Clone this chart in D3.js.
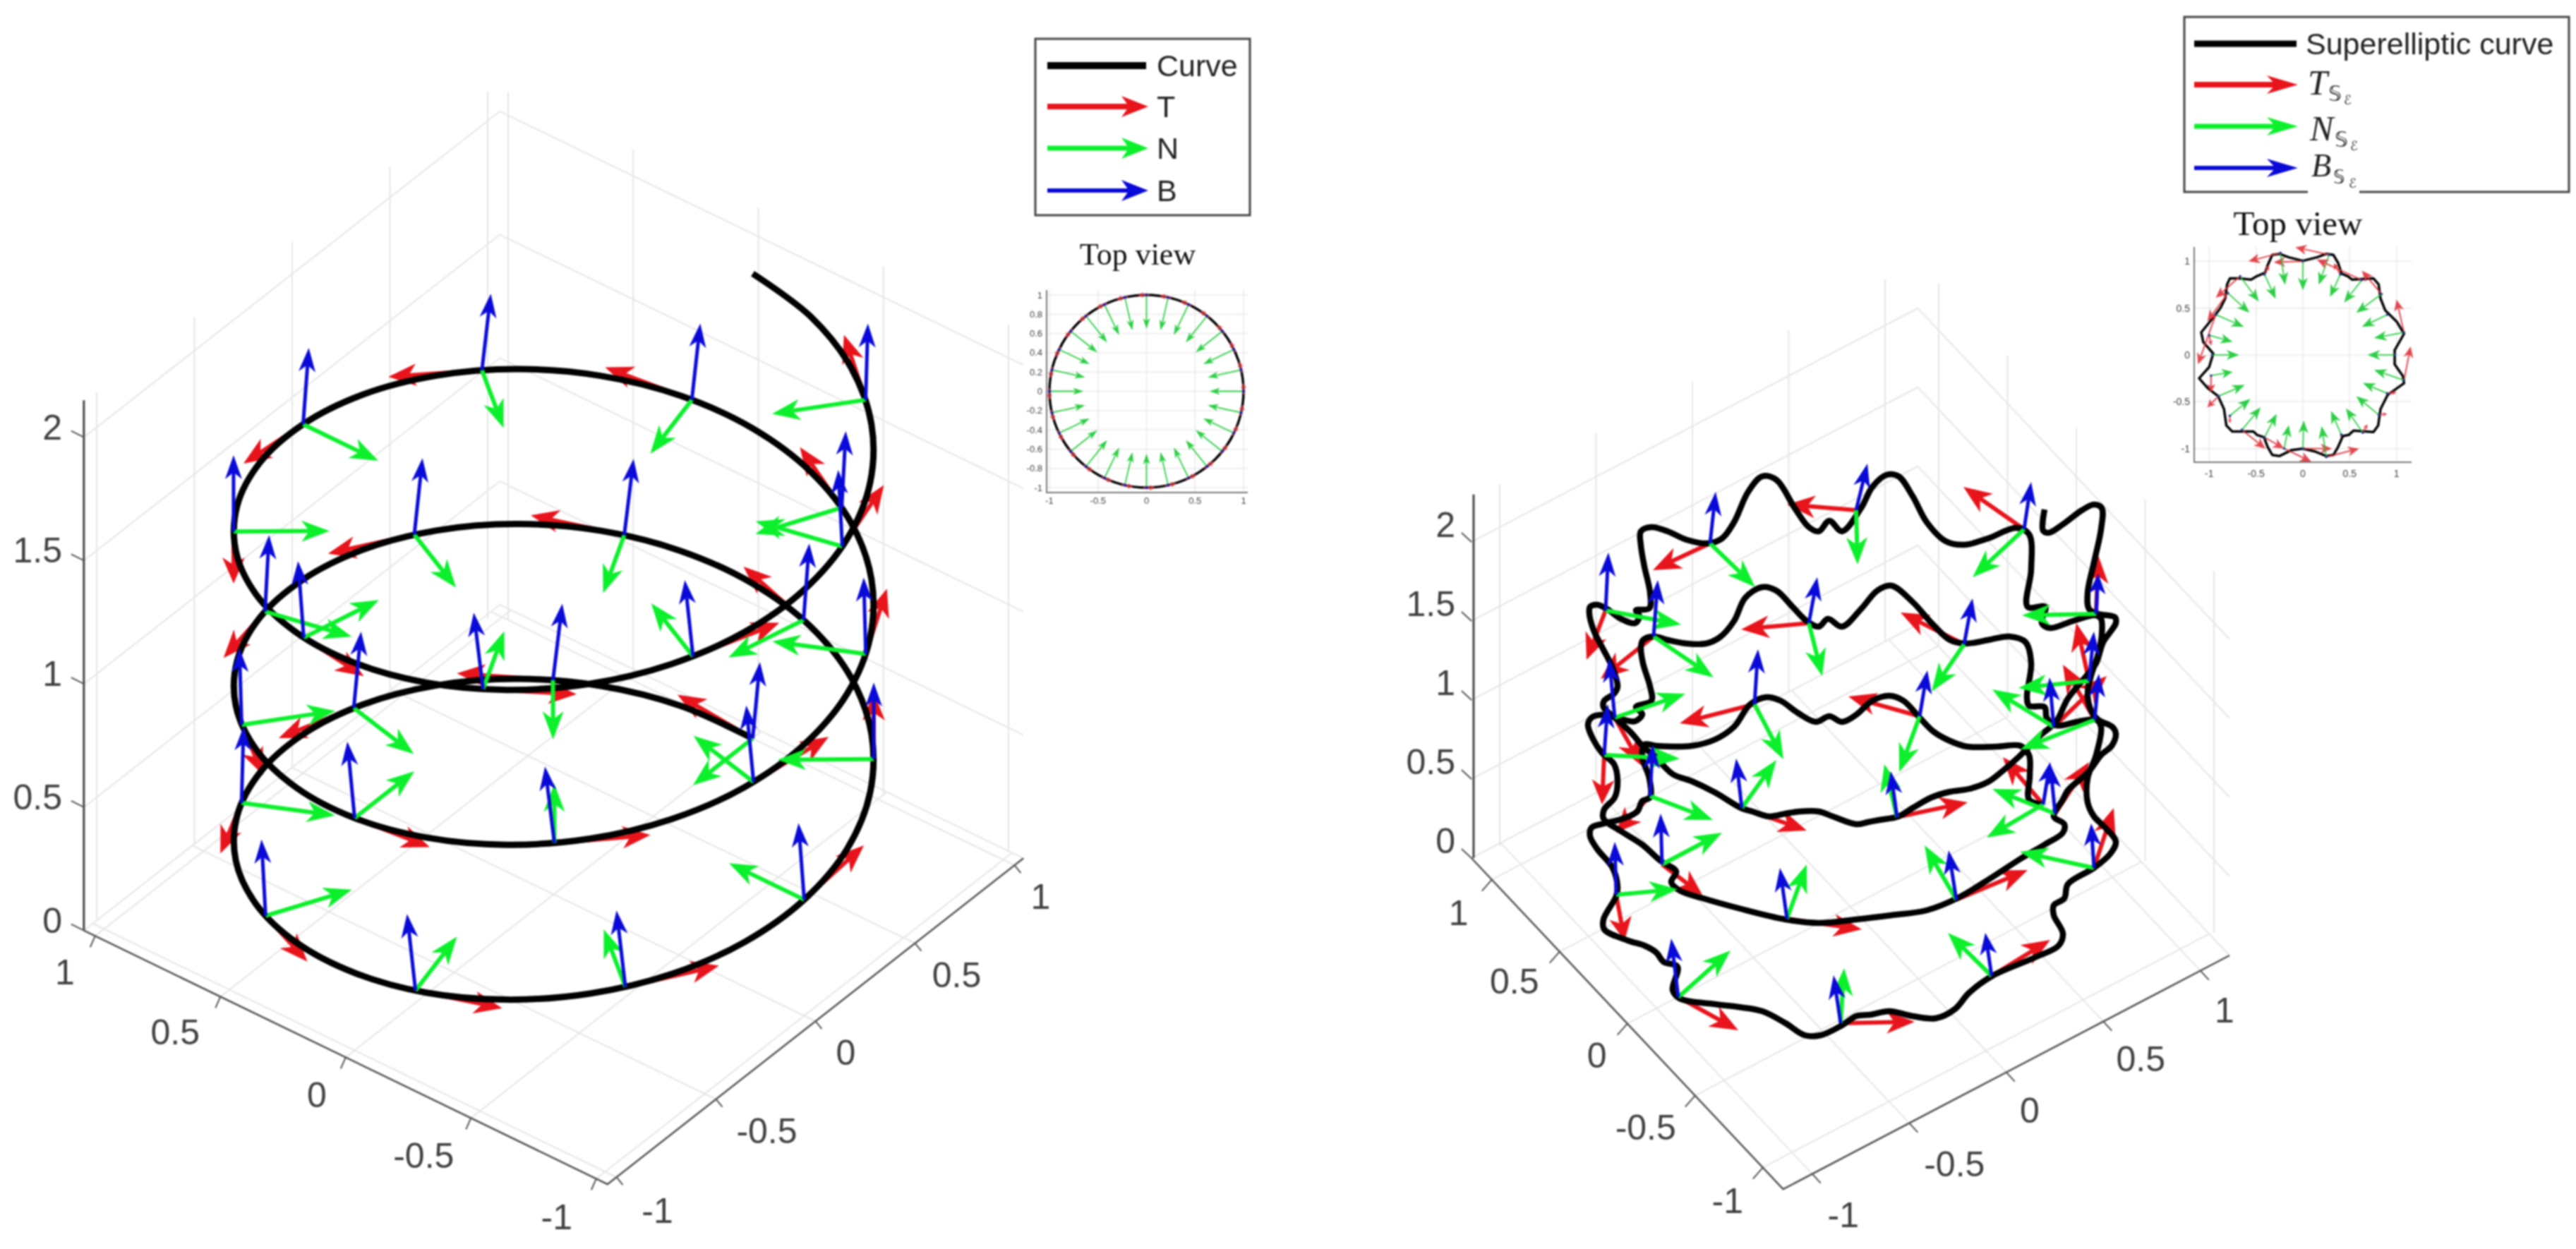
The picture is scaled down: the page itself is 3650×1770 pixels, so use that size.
<!DOCTYPE html>
<html><head><meta charset="utf-8">
<script src="https://cdn.jsdelivr.net/npm/d3@7"></script>
<style>html,body{margin:0;padding:0;background:#fff}svg{display:block;filter:blur(1px)}</style>
</head><body><div id="c"></div>
<script>
// ---------- left panel: helix sampled along the curve
const curveA=[0,.259,.5,.707,.866,.966,1,.966,.866,.707,.5,.259,0,-.259,-.5,-.707,-.866,-.966,-1,-.966,-.866,-.707,-.5,-.259,
0,.259,.5,.707,.866,.966,1,.966,.866,.707,.5,.259,0,-.259,-.5,-.707,-.866,-.966,-1,-.966,-.866,-.707,-.5,-.259,
0,.259,.5,.707,.866,.966,1,.966,.866,.707,.5,.259,0,-.259,-.5,-.707,-.866,-.966,-1,-.966,-.866,-.707,-.5,-.259,0];
const curveB=[1,.966,.866,.707,.5,.259,0,-.259,-.5,-.707,-.866,-.966,-1,-.966,-.866,-.707,-.5,-.259,0,.259,.5,.707,.866,.966,
1,.966,.866,.707,.5,.259,0,-.259,-.5,-.707,-.866,-.966,-1,-.966,-.866,-.707,-.5,-.259,0,.259,.5,.707,.866,.966,
1,.966,.866,.707,.5,.259,0,-.259,-.5,-.707,-.866,-.966,-1,-.966,-.866,-.707,-.5,-.259,0,.259,.5,.707,.866,.966,1];
const curveZ=[0,.026,.052,.079,.105,.131,.157,.183,.209,.236,.262,.288,.314,.340,.367,.393,.419,.445,.471,.497,.524,.550,.576,.602,.628,.654,.681,.707,.733,.759,.785,.812,.838,.864,.890,.916,.942,.969,.995,1.021,1.047,1.073,1.100,1.126,1.152,1.178,1.204,1.230,1.257,1.283,1.309,1.335,1.361,1.388,1.414,1.440,1.466,1.492,1.518,1.545,1.571,1.597,1.623,1.649,1.676,1.702,1.728,1.754,1.780,1.806,1.833,1.859,1.885];
const frameA=[0,.624,.975,.901,.434,-.223,-.782,-1,-.782,-.223,.434,.901,.975,.624,0,-.624,-.975,-.901,-.434,.223,.782,1,.782,.223,-.434,-.901,-.975,-.624];
const frameB=[1,.782,.223,-.434,-.901,-.975,-.624,0,.624,.975,.901,.434,-.223,-.782,-1,-.782,-.223,.434,.901,.975,.624,0,-.624,-.975,-.901,-.434,.223,.782];
const frameZ=[0,.067,.135,.202,.269,.337,.404,.471,.539,.606,.673,.741,.808,.875,.942,1.010,1.077,1.144,1.212,1.279,1.346,1.414,1.481,1.548,1.616,1.683,1.750,1.818];
const tanA=[.3,.235,.067,-.13,-.27,-.293,-.187,0,.187,.293,.27,.13,-.067,-.235,-.3,-.235,-.067,.13,.27,.293,.187,0,-.187,-.293,-.27,-.13,.067,.235];
const tanB=[0,-.187,-.293,-.27,-.13,.067,.235,.3,.235,.067,-.13,-.27,-.293,-.187,0,.187,.293,.27,.13,-.067,-.235,-.3,-.235,-.067,.13,.27,.293,.187];
const tanZ=.03;
const norA=[0,-.187,-.293,-.27,-.13,.067,.235,.3,.235,.067,-.13,-.27,-.293,-.187,0,.187,.293,.27,.13,-.067,-.235,-.3,-.235,-.067,.13,.27,.293,.187];
const norB=[-.3,-.235,-.067,.13,.27,.293,.187,0,-.187,-.293,-.27,-.13,.067,.235,.3,.235,.067,-.13,-.27,-.293,-.187,0,.187,.293,.27,.13,-.067,-.235];
const binA=[-.018,-.023,-.018,-.005,.010,.021,.022,.014,0,-.014,-.023,-.020,-.010,.006,.018,.023,.018,.005,-.010,-.021,-.022,-.014,0,.014,.023,.020,.010,-.006];
const binB=[.014,.018,.014,.004,-.008,-.016,-.017,-.011,0,.011,.018,.016,.008,-.004,-.014,-.018,-.014,-.004,.008,.016,.017,.011,0,-.011,-.018,-.016,-.008,.004];
const binZ=.31;
// ---------- right panel: superelliptic curve, read in view units
const superH=[271,253,254,253,241,208,165,141,118,98,75,55,31,8,-12,-30,-49,-75,-99,-119,-142,-165,-192,-225,-275,-292,-295,-285,-284,-295,-302,-322,-349,-367,-369,-359,-337,-330,-332,-350,-349,-315,-292,-275,-265,-245,-252,-242,-192,-159,-125,-92,-65,-42,-12,8,28,55,88,121,148,168,201,261,295,301,288,288,303,308,345,368,376,361,345,336,336,348,355,348,321,291,278,275,253,250,256,248,225,195,163,141,115,88,58,38,15,-12,-32,-45,-62,-82,-105,-125,-149,-165,-185,-205,-232,-259,-279,-294,-297,-294,-284,-282,-304,-295,-305,-322,-352,-367,-372,-365,-352,-335,-330,-334,-349,-350,-325,-295,-269,-247,-254,-242,-209,-159,-92,-45,8,58,108,151,201,241,275,301,303,288,301,308,338,355,370,376,371,351,341,336,341,351,356,355,348,315,283,271,276,251,256,253,235,195,161,135,108,88,68,51,31,15,-12,-30,-45,-59,-79,-105,-125,-145,-165,-182,-202,-232,-259,-282,-297,-297,-292,-284,-285,-304,-299,-305,-325,-345,-359,-369,-370,-364,-352,-337,-330,-335,-349,-350,-334,-312,-292,-279,-252,-225,-192,-155,-139,-115,-92,-72,-45,-25,8,25,41,68,88,115,141,168,195,215,238,268,291,308,335,348,358,370,376,375,351,338,336,345,355,356,345,328,301,281,273,275];
const superV=[145,152,185,215,228,227,227,235,248,268,292,299,292,272,262,270,262,275,292,297,287,255,237,228,228,230,212,182,155,150,135,125,118,112,100,82,55,28,15,-18,-32,-48,-55,-65,-78,-85,-118,-130,-138,-142,-148,-165,-182,-182,-168,-155,-153,-148,-155,-158,-145,-122,-98,-72,-55,-38,-12,2,12,32,55,75,92,112,128,148,182,215,255,265,262,257,268,283,285,298,345,375,383,378,373,378,402,432,455,448,422,397,408,397,405,425,448,453,438,405,382,373,373,378,383,378,368,345,312,292,283,273,263,265,272,268,258,238,218,202,178,155,138,125,107,88,65,50,35,23,12,-2,-18,-23,-18,-12,-5,12,42,68,88,105,117,128,152,165,192,215,228,245,255,265,278,302,328,358,385,408,413,405,395,402,425,425,478,528,537,522,513,518,545,582,610,612,595,565,532,547,532,538,565,605,610,588,545,522,515,520,532,538,532,512,482,445,423,420,412,402,408,422,428,425,415,392,368,338,312,302,292,283,268,248,225,215,188,178,162,140,135,128,132,135,135,128,117,120,123,128,140,155,163,167,177,192,212,242,262,295,328,345,375,392,402,410,415,422,445,488,535,565,570,562,542,530,533,563];
const sfH=[-199,-347,-279,-59,-136,246,8,161,98,348,338,288,346,273,290,66,150,345,200,-14,-244,-332,-267,-90,-154,-284,-334,-349];
const sfV=[515,420,383,402,287,535,562,372,270,415,320,255,265,145,132,127,10,55,-98,-165,-128,17,60,-17,140,157,268,215];
const sfTH=[-280,-374,-354,-155,-242,160,-90,71,-3,351,320,363,301,216,338,166,251,373,283,91,-159,-320,-210,16,-62,-332,-296,-352];
const sfTV=[477,350,323,393,260,595,570,417,298,498,402,327,343,212,205,148,52,140,-47,-163,-175,-48,17,-32,108,105,200,145];
const sfNH=[-135,-240,-194,-40,-95,173,10,115,69,243,238,201,241,193,201,48,105,240,138,-9,-170,-245,-182,-62,-105,-195,-234,-242];
const sfNV=[453,400,325,327,209,467,485,305,191,413,310,308,223,98,167,202,87,78,-37,-87,-62,25,105,60,208,123,302,210];
const sfBH=[-191,-343,-273,-47,-131,256,24,173,109,351,345,282,352,283,283,57,139,341,191,-24,-254,-334,-269,-100,-162,-280,-342,-344];
const sfBV=[588,502,463,467,365,602,628,437,335,472,390,325,330,205,202,192,80,118,-37,-97,-45,92,132,55,210,230,352,287];
// ---------- top view of the superelliptic curve
const topH=[0,-.151,-.251,-.327,-.377,-.402,-.49,-.553,-.678,-.779,-.809,-.829,-.879,-.955,-1.085,-1.063,-.957,-1.0,-1.108,-1.017,-.905,-.842,-.817,-.754,-.653,-.528,-.49,-.415,-.377,-.327,-.251,-.126,0,.126,.251,.327,.377,.427,.49,.54,.754,.804,.829,.905,1.08,1.068,.98,.98,1.08,1.005,.879,.829,.809,.754,.528,.477,.415,.377,.327,.251,.151,0];
const topV=[1.005,1.043,1.08,1.068,.955,.879,.842,.804,.817,.817,.754,.603,.503,.402,.241,.136,.015,-.128,-.249,-.354,-.44,-.578,-.754,-.817,-.817,-.817,-.854,-.879,-.98,-1.068,-1.08,-1.018,-1.0,-1.03,-1.08,-1.068,-.98,-.867,-.854,-.809,-.824,-.754,-.578,-.427,-.302,-.226,-.1,.05,.226,.352,.477,.603,.754,.817,.804,.842,.867,.98,1.068,1.08,1.043,1.005];
const tfH=[0,.28,-.24,-.67,-.41,-.80,-.93,-1.0,-.97,-.98,-.9,-.78,-.65,-.41,-.2,0,.25,.41,.64,.81,.9,1.08,.98,1.08,.9,.84,.63,.4];
const tfV=[1.0,1.07,1.09,.84,.86,.66,.43,.21,0,-.22,-.44,-.65,-.80,-.88,-1.0,-1.0,-1.09,-.85,-.83,-.64,-.41,-.27,0,.24,.43,.65,.8,.86];
const tfNH=[0,.17,-.19,-.47,-.29,-.57,-.63,-.75,-.68,-.75,-.62,-.56,-.45,-.28,-.15,.01,.2,.30,.46,.57,.64,.76,.69,.76,.63,.57,.44,.29];
const tfNV=[.69,.75,.75,.57,.60,.45,.30,.14,0,-.18,-.32,-.47,-.56,-.63,-.75,-.70,-.76,-.60,-.57,-.44,-.30,-.16,0,.18,.30,.45,.56,.62];
const tfTH=[-.31,-.08,-.58,-.93,-.36,-1.02,-1.12,-.98,-.97,-.98,-1.02,-.78,-.40,-.2,.09,.31,.60,.40,.69,.90,1.0,1.15,.98,1.0,.9,.63,.15,.33];
const tfTV=[.99,1.15,1.0,.61,.96,.36,-.10,.10,-.02,-.40,-.56,-.73,-1.0,-1.0,-1.14,-1.0,-1.0,-.88,-.74,-.63,-.40,.09,.02,.59,.44,.90,1.02,.98];
// ---------- tick labels and legends
const ticksZ=[0,.5,1,1.5,2];
const ticksAB=[1,.5,0,-.5,-1];
const wallTicks=[-1,-.5,0,.5,1];
const insetTicksFine=[-1,-.8,-.6,-.4,-.2,0,.2,.4,.6,.8,1];
const insetTicksCoarse=[-1,-.5,0,.5,1];
const legendLeft=["Curve","T","N","B"];
const legendRight="Superelliptic curve";
const RED="#e8141c",GREEN="#0cf02c",BLUE="#0a0ad8";

const W=3650,H=1770;
const svg=d3.select("#c").append("svg").attr("width",W).attr("height",H).attr("viewBox",`0 0 ${W} ${H}`);
svg.append("rect").attr("width",W).attr("height",H).attr("fill","#fff");
const lineGen=d3.line();
function arrow(g,x0,y0,x1,y1,c,w,hl,hw,op){
  const L=Math.hypot(x1-x0,y1-y0)||1,ux=(x1-x0)/L,uy=(y1-y0)/L;
  hl=Math.min(hl,L*.5);hw=Math.min(hw,hl*.5);
  const bx=x1-ux*hl,by=y1-uy*hl,nx=x1-ux*hl*.72,ny=y1-uy*hl*.72;
  const gg=g.append("g").attr("opacity",op||1);
  gg.append("path").attr("d",lineGen([[x0,y0],[nx,ny]])).attr("stroke",c).attr("stroke-width",w).attr("fill","none");
  gg.append("path").attr("d",lineGen([[x1,y1],[bx-uy*hw,by+ux*hw],[nx,ny],[bx+uy*hw,by-ux*hw]])+"Z").attr("fill",c);
}
function axisLabel(g,x,y,t,size,anchor){
  g.append("text").attr("x",x).attr("y",y).attr("text-anchor",anchor||"middle").attr("dominant-baseline","central")
   .attr("font-family","'Liberation Sans',Arial,sans-serif").attr("font-size",size).attr("fill","#404040").text(t);
}
function fmt(v){return String(v);}
function view(o){
  const xa=d3.scaleLinear().domain([-1,1]).range([-o.da[0],o.da[0]]),
        ya=d3.scaleLinear().domain([-1,1]).range([-o.da[1],o.da[1]]),
        xb=d3.scaleLinear().domain([-1,1]).range([-o.db[0],o.db[0]]),
        yb=d3.scaleLinear().domain([-1,1]).range([-o.db[1],o.db[1]]),
        zs=d3.scaleLinear().domain([0,1]).range([0,-o.zu]);
  return (a,b,z=0)=>[o.c[0]+xa(a)+xb(b),o.c[1]+ya(a)+yb(b)+zs(z)];
}
function frameAxes(g,P,o){
  const L=o.lim,grid="#e6e6e6";
  const gl=(pts,c,w)=>g.append("path").attr("d",lineGen(pts)).attr("fill","none").attr("stroke",c).attr("stroke-width",w);
  ticksAB.forEach(t=>{gl([P(t,-L),P(t,L)],grid,2);gl([P(-L,t),P(L,t)],grid,2);});
  ticksZ.forEach(z=>gl([P(L,-L,z),P(L,L,z),P(-L,L,z)],grid,2));
  const lx=d3.scaleLinear().domain([-1,1]).range(o.wallL.x),ly=d3.scaleLinear().domain([-1,1]).range(o.wallL.y),
        rx=d3.scaleLinear().domain([-1,1]).range(o.wallR.x),ry=d3.scaleLinear().domain([-1,1]).range(o.wallR.y);
  wallTicks.forEach(t=>{
    gl([[lx(t),ly(t)],[lx(t),ly(t)-o.wallH]],grid,2);
    gl([[rx(t),ry(t)],[rx(t),ry(t)-o.wallH]],grid,2);
  });
  const c0=P(L,-L),c1=P(-L,-L),c2=P(-L,L);
  gl([[c0[0]+o.zdx,c0[1]],[c0[0]+o.zdx,c0[1]-o.zu*o.ztop]],"#444",3);
  gl([c0,c1,c2],"#555",2.5);
  ticksZ.forEach(z=>{const p=P(L,-L,z);
    gl([[p[0],p[1]],[p[0]+o.zt[0],p[1]+o.zt[1]]],"#555",2);
    axisLabel(g,o.zlab,p[1]+o.zly,fmt(z),o.fs,"end");
  });
  ticksAB.forEach((t,i)=>{
    let p=P(t,-L);gl([p,[p[0]+o.at[0],p[1]+o.at[1]]],"#555",2);
    axisLabel(g,p[0]+o.aoff[i][0],p[1]+o.aoff[i][1],fmt(t),o.fs);
    p=P(-L,t);gl([p,[p[0]+o.bt[0],p[1]+o.bt[1]]],"#555",2);
    axisLabel(g,p[0]+o.boff[4-i][0],p[1]+o.boff[4-i][1],fmt(t),o.fs);
  });
}
// ============ LEFT PANEL
const oL={c:[784.5,1267.5],da:[-355,-172],db:[282,-221],zu:349.5,lim:1.045,
  wallL:{x:[137,691],y:[1303,877]},wallR:{x:[1429,720],y:[1207,877]},wallH:747,
  zdx:0,ztop:2.15,zt:[-18,-9],zlab:88,zly:-14,fs:50,at:[-7,16],bt:[9,11],
  aoff:[[-43,52],[-64,51],[-41,54],[-67,54],[-56,55]],boff:[[58,48],[72,45],[43,45],[59,45],[37,45]]};
const PL=view(oL);
const gL=svg.append("g");frameAxes(gL,PL,oL);
const aW={T:[6,40,16],N:[6,40,15],B:[5,34,12]};
d3.range(frameA.length).forEach(i=>{const p=PL(frameA[i],frameB[i],frameZ[i]),
  q=PL(frameA[i]+tanA[i],frameB[i]+tanB[i],frameZ[i]+tanZ);
  arrow(gL,p[0],p[1],q[0],q[1],RED,...aW.T);});
gL.append("path").attr("d",d3.line().curve(d3.curveCatmullRom)(curveA.map((a,i)=>PL(a,curveB[i],curveZ[i]))))
  .attr("fill","none").attr("stroke","#000").attr("stroke-width",9);
d3.range(frameA.length).forEach(i=>{const p=PL(frameA[i],frameB[i],frameZ[i]),
  q=PL(frameA[i]+norA[i],frameB[i]+norB[i],frameZ[i]);
  arrow(gL,p[0],p[1],q[0],q[1],GREEN,...aW.N);});
d3.range(frameA.length).forEach(i=>{const p=PL(frameA[i],frameB[i],frameZ[i]),
  q=PL(frameA[i]+binA[i],frameB[i]+binB[i],frameZ[i]+binZ);
  arrow(gL,p[0],p[1],q[0],q[1],BLUE,...aW.B);});
// ============ RIGHT PANEL
const oR={c:[2622,1285],da:[-192,-204],db:[275,-144],zu:224,lim:1.15,
  wallL:{x:[2125,2671],y:[1199,909]},wallR:{x:[3137,2747],y:[1322,915]},wallH:513,
  zdx:3,ztop:2.3,zt:[-14,-13],zlab:2062,zly:-24,fs:50,at:[-14,16],bt:[12,13],
  aoff:[[-47,47],[-64,42],[-43,45],[-70,45],[-50,47]],boff:[[44,58],[64,58],[33,54],[53,53],[34,56]]};
const PR=view(oR);
const gR=svg.append("g");frameAxes(gR,PR,oR);
const sx=d3.scaleLinear().domain([-1000,1000]).range([1622,3622]),
      sy=d3.scaleLinear().domain([0,1000]).range([1285,285]);
d3.range(sfH.length).forEach(i=>arrow(gR,sx(sfH[i]),sy(sfV[i]),sx(sfTH[i]),sy(sfTV[i]),RED,...aW.T));
gR.append("path").attr("d",d3.line().curve(d3.curveCatmullRom)(superH.map((h,i)=>[sx(h),sy(superV[i])])))
  .attr("fill","none").attr("stroke","#000").attr("stroke-width",8.5).attr("stroke-linejoin","round");
d3.range(sfH.length).forEach(i=>arrow(gR,sx(sfH[i]),sy(sfV[i]),sx(sfNH[i]),sy(sfNV[i]),GREEN,...aW.N));
d3.range(sfH.length).forEach(i=>arrow(gR,sx(sfH[i]),sy(sfV[i]),sx(sfBH[i]),sy(sfBV[i]),BLUE,...aW.B));
// ============ INSETS
function inset(g,o,ticksY,ticksX){
  const x=d3.scaleLinear().domain([-1,1]).range(o.x),y=d3.scaleLinear().domain([-1,1]).range(o.y);
  ticksY.forEach(t=>{g.append("line").attr("x1",o.ax).attr("x2",o.rx).attr("y1",y(t)).attr("y2",y(t)).attr("stroke","#eaeaea").attr("stroke-width",1.5);
    axisLabel(g,o.ax-6,y(t),fmt(t),o.ls,"end");});
  ticksX.forEach(t=>{g.append("line").attr("x1",x(t)).attr("x2",x(t)).attr("y1",o.ay).attr("y2",o.ty).attr("stroke","#eaeaea").attr("stroke-width",1.5);
    axisLabel(g,x(t),o.ay+o.ld,fmt(t),o.ls);});
  g.append("path").attr("d",lineGen([[o.ax,o.ty],[o.ax,o.ay],[o.rx,o.ay]])).attr("fill","none").attr("stroke","#777").attr("stroke-width",2);
  return [x,y];
}
{const g=svg.append("g");
 const [x,y]=inset(g,{x:[1487,1762],y:[691,418],ax:1483,ay:698,rx:1768,ty:411,ls:13,ld:11},insetTicksFine,insetTicksCoarse);
 g.append("path").attr("d",d3.line().curve(d3.curveCatmullRomClosed)(curveA.slice(0,24).map((a,i)=>[x(curveB[i]),y(a)])))
  .attr("fill","none").attr("stroke","#000").attr("stroke-width",3.5);
 frameA.forEach((a,i)=>{
  arrow(g,x(frameB[i]),y(a),x(frameB[i]+norB[i]*1.17),y(a+norA[i]*1.17),"#22cc3c",1.8,15,5,.95);
  arrow(g,x(frameB[i]+tanB[i]*-.1),y(a+tanA[i]*-.1),x(frameB[i]+tanB[i]*.3),y(a+tanA[i]*.3),"#e23642",2.6,14,7,.8);
  g.append("circle").attr("cx",x(frameB[i])).attr("cy",y(a)).attr("r",1.8).attr("fill",BLUE);
 });
 g.append("text").attr("x",1612).attr("y",375).attr("text-anchor","middle").attr("font-family","'Liberation Serif',serif").attr("font-size",44).attr("fill","#111").text("Top view");
}
{const g=svg.append("g");
 const [x,y]=inset(g,{x:[3130.3,3395.7],y:[635.7,370.3],ax:3109,ay:655,rx:3417,ty:350,ls:14,ld:16},insetTicksCoarse,insetTicksCoarse);
 g.append("path").attr("d",d3.line()(topH.map((h,i)=>[x(h),y(topV[i])])))
  .attr("fill","none").attr("stroke","#000").attr("stroke-width",3.5).attr("stroke-linejoin","round");
 tfH.forEach((h,i)=>{
  arrow(g,x(h),y(tfV[i]),x(tfNH[i]),y(tfNV[i]),"#22cc3c",1.8,18,7,.95);
  arrow(g,x(h),y(tfV[i]),x(tfTH[i]),y(tfTV[i]),"#e0323c",2,16,7,.9);
  g.append("circle").attr("cx",x(h)).attr("cy",y(tfV[i])).attr("r",1.8).attr("fill","#1a3a9a");
 });
 g.append("text").attr("x",3256).attr("y",333).attr("text-anchor","middle").attr("font-family","'Liberation Serif',serif").attr("font-size",49).attr("fill","#111").text("Top view");
}
// ============ LEGENDS
{const g=svg.append("g");
 g.append("rect").attr("x",1467).attr("y",55).attr("width",304).attr("height",250).attr("fill","#fff").attr("stroke","#444").attr("stroke-width",3);
 const rows=[93,151,210,270],cols=["#000",RED,GREEN,BLUE],ws=[10,8,7,6];
 legendLeft.forEach((t,i)=>{
  if(i==0) g.append("line").attr("x1",1484).attr("x2",1624).attr("y1",rows[i]).attr("y2",rows[i]).attr("stroke",cols[i]).attr("stroke-width",ws[i]);
  else arrow(g,1484,rows[i],1627,rows[i],cols[i],ws[i],38,15);
  g.append("text").attr("x",1639).attr("y",rows[i]).attr("dominant-baseline","central").attr("font-family","'Liberation Sans',Arial,sans-serif").attr("font-size",43).attr("fill","#222").text(t);
 });
}
{const g=svg.append("g");
 g.append("rect").attr("x",3095).attr("y",24).attr("width",545).attr("height",248).attr("fill","#fff").attr("stroke","#444").attr("stroke-width",3);
 g.append("rect").attr("x",3270).attr("y",268).attr("width",73).attr("height",8).attr("fill","#fff");
 const rows=[62,120,179,238],cols=["#000",RED,GREEN,BLUE];
 g.append("line").attr("x1",3109).attr("x2",3254).attr("y1",rows[0]).attr("y2",rows[0]).attr("stroke","#000").attr("stroke-width",9);
 [1,2,3].forEach(i=>arrow(g,3109,rows[i],3256,rows[i],cols[i],[0,8,7,6][i],44,13));
 g.append("text").attr("x",3267).attr("y",rows[0]).attr("dominant-baseline","central").attr("font-family","'Liberation Sans',Arial,sans-serif").attr("font-size",43).attr("fill","#222").text(legendRight);
 [["T",3270,134,3299,143,148],["N",3273,199,3308,208,213],["B",3275,250,3306,260,266]].forEach(([s,tx,ty,sxx,sb,eb])=>{
  g.append("text").attr("x",tx).attr("y",ty).attr("font-family","'Liberation Serif',serif").attr("font-style","italic").attr("font-size",s==="B"?46:50).attr("fill","#222").text(s);
  g.append("text").attr("x",sxx).attr("y",sb).attr("font-family","'DejaVu Sans',sans-serif").attr("font-size",s==="B"?26:30).attr("fill","#222").text("𝕊");
  g.append("text").attr("x",sxx+22).attr("y",eb).attr("font-family","'DejaVu Sans',serif").attr("font-style","italic").attr("font-size",18).attr("fill","#222").text("ℰ");
 });
}
</script></body></html>
